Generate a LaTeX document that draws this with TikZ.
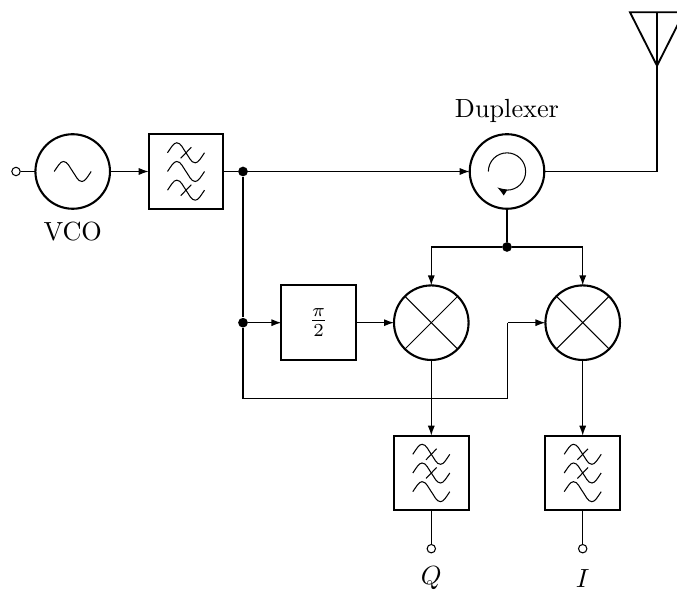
\documentclass[tikz,border=0pt]{standalone}
\usetikzlibrary{arrows.meta,calc}
\tikzset{
  x=0.3809pt,y=-0.3809pt,
  thinline/.style={line width=0.4pt},
  wire/.style={line width=0.45pt},
  arrowwire/.style={wire,-{Latex[length=3.8pt,width=2.7pt]}},
  blockbox/.style={draw,line width=0.8pt,minimum size=28.4pt,inner sep=0pt,outer sep=0pt,rectangle},
  roundblock/.style={draw,line width=0.8pt,minimum size=28.4pt,inner sep=0pt,outer sep=0pt,circle},
  junction/.style={circle,fill=black,inner sep=0pt,minimum size=3.7pt},
  terminal/.style={circle,draw,line width=0.4pt,fill=white,inner sep=0pt,minimum size=3.2pt},
  wavepath/.pic={
    \draw[line width=0.4pt] (-18.5,0) .. controls (-15,-5) and (-12.5,-10) .. (-9.25,-10)
      .. controls (-5,-10) and (-3,-4) .. (0,0)
      .. controls (3,4) and (5,10) .. (9.25,10)
      .. controls (12.5,10) and (15,5) .. (18.5,0);
  },
  slashwave/.pic={
    \draw[line width=0.4pt] (-18.5,0) .. controls (-15,-5) and (-12.5,-10) .. (-9.25,-10)
      .. controls (-5,-10) and (-3,-4) .. (0,0)
      .. controls (3,4) and (5,10) .. (9.25,10)
      .. controls (12.5,10) and (15,5) .. (18.5,0);
    \draw[line width=0.4pt] (-5.3,5.5) -- (5.3,-5.5);
  },
}
\begin{document}
\begin{tikzpicture}
\clip (0,0) rectangle (677,591);
% blocks
\node[roundblock] (vco) at (72.7,171.5) {};
\node[blockbox] (lpf) at (186,171.5) {};
\node[roundblock] (dup) at (507,171.5) {};
\node[blockbox] (shift) at (318.7,322.7) {$\frac{\pi}{2}$};
\node[roundblock] (mixq) at (431.3,322.7) {};
\node[roundblock] (mixi) at (582.7,322.7) {};
\node[blockbox] (lpfq) at (431.3,473) {};
\node[blockbox] (lpfi) at (582.7,473) {};
% terminals and junctions
\node[terminal] (tin) at (16,171.5) {};
\node[terminal] (tq) at (431.3,548.7) {};
\node[terminal] (ti) at (582.7,548.7) {};
\node[junction] (j1) at (243,171.5) {};
\node[junction] (j2) at (243,322.7) {};
\node[junction] (j3) at (507,247) {};
\coordinate (apex) at (657,65.7);
\coordinate (anttop) at (657,12.3);
\coordinate (antl) at (630,12.3);
\coordinate (antr) at (684,12.3);
\coordinate (cornerl) at (243,398.3);
\coordinate (cornerr) at (507.7,398.3);
\coordinate (cornert) at (507.7,322.7);
% labels
\node (lvco) at (72.7,232) {VCO};
\node (ldup) at (507,110.5) {Duplexer};
\node (lq) at (431.3,578.5) {$Q$};
\node (li) at (582.7,578.5) {$I$};
% symbols
\pic at (vco.center) {wavepath};
\foreach \n/\a/\b/\c in {lpf/slashwave/wavepath/slashwave,lpfq/slashwave/slashwave/wavepath,lpfi/slashwave/slashwave/wavepath}{
  \pic at ($(\n.center)+(0,-18.7)$) {\a};
  \pic at (\n.center) {\b};
  \pic at ($(\n.center)+(0,18.7)$) {\c};
}
\foreach \m in {mixq,mixi}{
  \draw[thinline] (\m.45) -- (\m.225);
  \draw[thinline] (\m.135) -- (\m.315);
}
\draw[thinline,-{Latex[length=3.8pt,width=2.7pt]}] (dup.center) ++(-7.1pt,0) arc[start angle=180,end angle=-122,radius=7.1pt];
% antenna
\draw[line width=0.7pt] (antl) -- (antr) -- (apex) -- cycle;
\draw[wire] (anttop) -- (apex);
% connectors
\draw[wire] (tin) -- (vco);
\draw[arrowwire] (vco) -- (lpf);
\draw[wire] (lpf) -- (j1);
\draw[arrowwire] (j1) -- (dup);
\draw[wire] (dup.east) -| (apex);
\draw[wire] (dup.south) -- (j3);
\draw[arrowwire] (j3) -| (mixq.north);
\draw[arrowwire] (j3) -| (mixi.north);
\draw[wire] (j1) -- (j2);
\draw[arrowwire] (j2) -- (shift);
\draw[arrowwire] (shift) -- (mixq);
\draw[wire] (j2) -- (cornerl) -- (cornerr) -- (cornert);
\draw[arrowwire] (cornert) -- (mixi.west);
\draw[arrowwire] (mixq) -- (lpfq);
\draw[arrowwire] (mixi) -- (lpfi);
\draw[wire] (lpfq) -- (tq);
\draw[wire] (lpfi) -- (ti);
\end{tikzpicture}
\end{document}
